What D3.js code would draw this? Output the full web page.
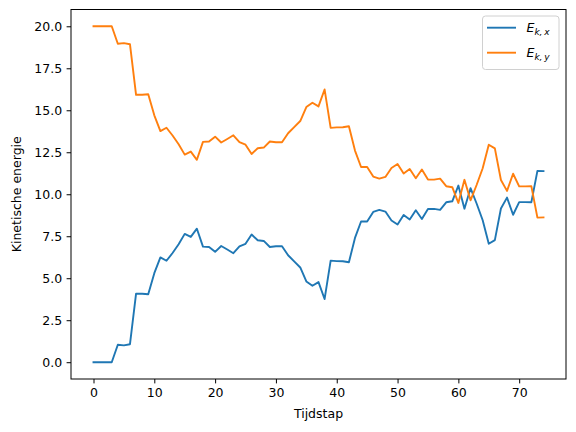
<!DOCTYPE html>
<html>
<head>
<meta charset="utf-8">
<script src="https://cdn.jsdelivr.net/npm/d3@7"></script>
<style>
  body { margin: 0; background: #fff; }
  svg { display: block; font-family: "DejaVu Sans", sans-serif; }
</style>
</head>
<body>
<div id="chart"></div>
<script>
// ===== DATA =====
const steps = d3.range(75);

const ekx = [
  0, 0, 0, 0, 1.04, 1.0, 1.07, 4.08, 4.08, 4.05,
  5.3, 6.24, 6.04, 6.5, 7.02, 7.64, 7.46, 7.95, 6.88, 6.86,
  6.57, 6.92, 6.71, 6.49, 6.9, 7.05, 7.6, 7.26, 7.22, 6.86,
  6.9, 6.9, 6.37, 6.0, 5.64, 4.81, 4.55, 4.77, 3.76, 6.05,
  6.02, 6.01, 5.95, 7.4, 8.38, 8.38, 8.95, 9.07, 8.97, 8.44,
  8.2, 8.77, 8.5, 9.05, 8.53, 9.12, 9.13, 9.07, 9.52, 9.58,
  10.52, 9.14, 10.36, 9.45, 8.45, 7.05, 7.27, 9.15, 9.8, 8.78,
  9.53, 9.53, 9.52, 11.39, 11.38
];

const eky = [
  20, 20, 20, 20, 18.96, 19.0, 18.93, 15.92, 15.92, 15.95,
  14.7, 13.76, 13.96, 13.5, 12.98, 12.36, 12.54, 12.05, 13.12, 13.14,
  13.43, 13.08, 13.29, 13.51, 13.1, 12.95, 12.4, 12.74, 12.78, 13.14,
  13.1, 13.1, 13.63, 14.0, 14.36, 15.19, 15.45, 15.23, 16.24, 13.95,
  13.98, 13.99, 14.05, 12.6, 11.62, 11.62, 11.05, 10.93, 11.03, 11.56,
  11.8, 11.23, 11.5, 10.95, 11.47, 10.88, 10.87, 10.93, 10.48, 10.42,
  9.48, 10.86, 9.64, 10.55, 11.55, 12.95, 12.73, 10.85, 10.2, 11.22,
  10.47, 10.47, 10.48, 8.61, 8.62
];

const xTicks = [0, 10, 20, 30, 40, 50, 60, 70];
const yTicks = [0, 2.5, 5, 7.5, 10, 12.5, 15, 17.5, 20];

const seriesNames = ["x", "y"];
const seriesColors = ["#1f77b4", "#ff7f0e"];

// ===== SIZE =====
const width = 576;
const height = 432;
const margin = { top: 9.5, right: 10, bottom: 53, left: 71 };
const innerW = width - margin.left - margin.right;
const innerH = height - margin.top - margin.bottom;

const svg = d3.select("#chart")
  .append("svg")
  .attr("width", width)
  .attr("height", height);

const g = svg.append("g")
  .attr("transform", `translate(${margin.left},${margin.top})`);

// matplotlib style 5% margins
const x = d3.scaleLinear().domain([-3.7, 77.7]).range([0, innerW]);
const y = d3.scaleLinear().domain([-1, 21]).range([innerH, 0]);

const xAxis = g.append("g")
  .attr("transform", `translate(0,${innerH})`)
  .call(d3.axisBottom(x).tickValues(xTicks).tickSize(4.4).tickPadding(4.4).tickFormat(d3.format("d")));

const yAxis = g.append("g")
  .call(d3.axisLeft(y).tickValues(yTicks).tickSize(4.4).tickPadding(4.4).tickFormat(d3.format(".1f")));

[xAxis, yAxis].forEach(a => {
  a.select(".domain").remove();
  a.selectAll(".tick line").attr("stroke", "#000").attr("stroke-width", 1);
  a.selectAll(".tick text")
    .attr("fill", "#000")
    .style("font-size", "12.5px")
    .style("font-family", "DejaVu Sans");
});

// lines
const line = d3.line()
  .x((d, i) => x(steps[i]))
  .y(d => y(d));

[ekx, eky].forEach((s, k) => {
  g.append("path")
    .datum(s)
    .attr("fill", "none")
    .attr("stroke", seriesColors[k])
    .attr("stroke-width", 1.9)
    .attr("stroke-linejoin", "round")
    .attr("stroke-linecap", "square")
    .attr("d", line);
});

// frame
g.append("rect")
  .attr("width", innerW)
  .attr("height", innerH)
  .attr("fill", "none")
  .attr("stroke", "#000")
  .attr("stroke-width", 1);

// axis labels
svg.append("text")
  .attr("x", margin.left + innerW / 2)
  .attr("y", 418)
  .attr("text-anchor", "middle")
  .style("font-size", "12.5px")
  .text("Tijdstap");

svg.append("text")
  .attr("transform", "rotate(-90)")
  .attr("x", -(margin.top + innerH / 2))
  .attr("y", 21)
  .attr("text-anchor", "middle")
  .style("font-size", "12.5px")
  .text("Kinetische energie");

// legend
const legend = svg.append("g").attr("transform", "translate(482.5,16)");

legend.append("rect")
  .attr("width", 76.5)
  .attr("height", 53.5)
  .attr("rx", 3)
  .attr("fill", "#fff")
  .attr("fill-opacity", 0.8)
  .attr("stroke", "#d0d0d0")
  .attr("stroke-width", 1);

seriesNames.forEach((n, i) => {
  const row = legend.append("g").attr("transform", `translate(0,${11.7 + i * 25})`);
  row.append("line")
    .attr("x1", 4.5).attr("x2", 33.5)
    .attr("stroke", seriesColors[i])
    .attr("stroke-width", 1.9);
  const t = row.append("text")
    .attr("x", 44)
    .attr("y", 4.5)
    .style("font-size", "12.5px")
    .style("font-style", "italic");
  t.append("tspan").text("E");
  t.append("tspan")
    .attr("dy", 3)
    .style("font-size", "9px")
    .text("k,\u2009" + n);
});
</script>
</body>
</html>
